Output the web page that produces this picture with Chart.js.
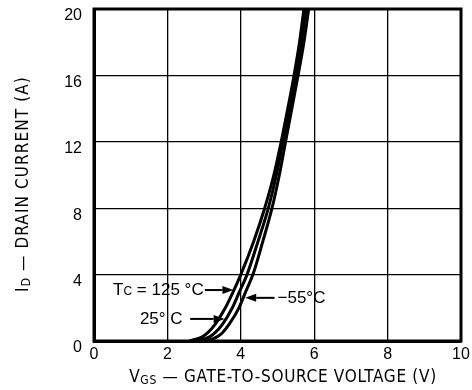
<!DOCTYPE html>
<html>
<head>
<meta charset="utf-8">
<script src="https://cdn.jsdelivr.net/npm/chart.js@4.4.1/dist/chart.umd.min.js"></script>
<style>
  html, body { margin: 0; padding: 0; background: #fff; }
  #wrap { width: 472px; height: 390px; }
</style>
</head>
<body>
<div id="wrap"><canvas id="c" width="472" height="390"></canvas></div>
<script>
// ---- data ----
const currentA = [0, 0.25, 0.5, 1, 2, 3, 4, 6, 8, 10, 12, 14, 16, 18, 20];
const vgs125 = [2.6, 2.95, 3.1, 3.3, 3.58, 3.8, 4.0, 4.35, 4.65, 4.9, 5.1, 5.28, 5.45, 5.6, 5.72];
const vgs25 = [2.85, 3.15, 3.3, 3.5, 3.77, 3.97, 4.17, 4.47, 4.75, 4.97, 5.15, 5.33, 5.5, 5.65, 5.78];
const vgsM55 = [3.1, 3.35, 3.5, 3.68, 3.95, 4.14, 4.33, 4.6, 4.85, 5.05, 5.22, 5.39, 5.56, 5.72, 5.85];
const xTicks = [0, 2, 4, 6, 8, 10];
const yTicks = [0, 4, 8, 12, 16, 20];
const seriesNames = ['125', '25', '-55'];

function pts(v) { return v.map((x, i) => ({ x: x, y: currentA[i] })); }

// annotation anchors in data units (label text start, arrow start, arrow tip)
const notes = [
  { parts: [['T', 17, 0], ['C', 12, 2], [' = 125 °C', 17, 0]], tx: 0.52, ty: 3.07, ax0: 3.02, ax1: 3.8, ay: 3.07 },
  { parts: [['25° C', 17, 0]], tx: 1.25, ty: 1.33, ax0: 2.62, ax1: 3.56, ay: 1.33 },
  { parts: [['−55°C', 17, 0]], tx: 5.0, ty: 2.6, ax0: 4.92, ax1: 4.12, ay: 2.6 }
];

const FONT_T = '"DejaVu Sans Condensed", "DejaVu Sans", sans-serif';
const FONT_N = '"Liberation Sans", Arial, sans-serif';

function drawParts(ctx, parts, x, y, family, spacing) {
  let cx = x;
  for (const [t, size, dy] of parts) {
    ctx.font = size + 'px ' + family;
    ctx.letterSpacing = (spacing || 0) + 'px';
    ctx.fillText(t, cx, y + dy);
    cx += ctx.measureText(t).width;
  }
  return cx - x;
}
function measureParts(ctx, parts, family, spacing) {
  let w = 0;
  for (const [t, size] of parts) {
    ctx.font = size + 'px ' + family;
    ctx.letterSpacing = (spacing || 0) + 'px';
    w += ctx.measureText(t).width;
  }
  return w;
}

function arrow(ctx, x0, y, x1) {
  const dir = x1 > x0 ? 1 : -1;
  const L = 11, H = 4;
  ctx.beginPath();
  ctx.moveTo(x0, y);
  ctx.lineTo(x1 - dir * L, y);
  ctx.lineWidth = 2;
  ctx.strokeStyle = '#000';
  ctx.stroke();
  ctx.beginPath();
  ctx.moveTo(x1, y);
  ctx.lineTo(x1 - dir * L, y - H);
  ctx.lineTo(x1 - dir * L, y + H);
  ctx.closePath();
  ctx.fillStyle = '#000';
  ctx.fill();
}

const decor = {
  id: 'decor',
  afterDraw(chart) {
    const ctx = chart.ctx;
    const a = chart.chartArea;
    const xs = chart.scales.x, ys = chart.scales.y;
    ctx.save();
    // frame
    ctx.strokeStyle = '#000';
    ctx.lineWidth = 3;
    ctx.strokeRect(a.left, a.top, a.right - a.left, a.bottom - a.top);

    ctx.fillStyle = '#000';
    ctx.textBaseline = 'middle';
    ctx.textAlign = 'left';
    // x title
    const xParts = [['V', 17, 0], ['GS', 12, 3], [' — GATE-TO-SOURCE VOLTAGE (V)', 17, 0]];
    const xw = measureParts(ctx, xParts, FONT_T, 0.7);
    drawParts(ctx, xParts, 283 - xw / 2, 378, FONT_T, 0.7);
    // y title
    ctx.save();
    ctx.translate(24, 184);
    ctx.rotate(-Math.PI / 2);
    const yParts = [['I', 17, 0], ['D', 12, 3], [' — DRAIN CURRENT (A)', 17, 0]];
    const yw = measureParts(ctx, yParts, FONT_T, 1.1);
    drawParts(ctx, yParts, -yw / 2, 0, FONT_T, 1.1);
    ctx.restore();

    // annotations
    for (const n of notes) {
      const px = xs.getPixelForValue(n.tx), py = ys.getPixelForValue(n.ty);
      drawParts(ctx, n.parts, px, py, FONT_N, 0);
      const ay = ys.getPixelForValue(n.ay);
      arrow(ctx, xs.getPixelForValue(n.ax0), ay, xs.getPixelForValue(n.ax1));
    }
    ctx.restore();
  }
};

const lineStyle = { borderColor: '#000', borderWidth: 3, pointRadius: 0, showLine: true, fill: false, cubicInterpolationMode: 'monotone' };

new Chart(document.getElementById('c'), {
  type: 'scatter',
  data: {
    datasets: [
      Object.assign({ label: seriesNames[0], data: pts(vgs125) }, lineStyle),
      Object.assign({ label: seriesNames[1], data: pts(vgs25) }, lineStyle),
      Object.assign({ label: seriesNames[2], data: pts(vgsM55) }, lineStyle)
    ]
  },
  options: {
    responsive: false,
    animation: false,
    devicePixelRatio: 1,
    layout: { padding: { top: 9, right: 11, left: 0, bottom: 0 } },
    plugins: { legend: { display: false }, tooltip: { enabled: false } },
    scales: {
      x: {
        type: 'linear', min: 0, max: 10,
        afterBuildTicks(s) { s.ticks = xTicks.map(v => ({ value: v })); },
        afterFit(s) { s.height = 49; s.paddingLeft = 0; s.paddingRight = 0; },
        ticks: { color: '#000', font: { family: FONT_N, size: 16 }, padding: 4, maxRotation: 0 },
        grid: { color: '#000', lineWidth: 1.3, drawTicks: false },
        border: { display: true, color: '#000', width: 3 }
      },
      y: {
        type: 'linear', min: 0, max: 20,
        afterBuildTicks(s) { s.ticks = yTicks.map(v => ({ value: v })); },
        afterFit(s) { s.width = 94; s.paddingTop = 0; s.paddingBottom = 0; },
        ticks: { color: '#000', font: { family: FONT_N, size: 16 }, padding: 12, labelOffset: 7 },
        grid: { color: '#000', lineWidth: 1.3, drawTicks: false },
        border: { display: true, color: '#000', width: 3 }
      }
    }
  },
  plugins: [decor]
});
</script>
</body>
</html>
